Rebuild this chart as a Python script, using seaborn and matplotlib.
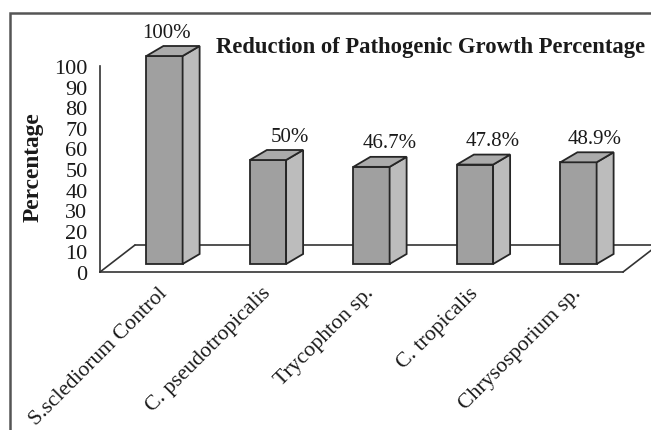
import matplotlib
matplotlib.use("Agg")
import matplotlib.pyplot as plt
import seaborn as sns
from matplotlib.patches import Polygon, Rectangle
from matplotlib.lines import Line2D

categories = ["S.sclediorum Control", "C. pseudotropicalis", "Trycophton sp.",
              "C. tropicalis", "Chrysosporium sp."]
values = [100, 50, 46.7, 47.8, 48.9]
value_labels = ["100%", "50%", "46.7%", "47.8%", "48.9%"]
yticks = [0, 10, 20, 30, 40, 50, 60, 70, 80, 90, 100]
title = "Reduction of Pathogenic Growth Percentage"
ylabel = "Percentage"

sns.set_theme(style="white")
plt.rcParams["font.family"] = ["Liberation Serif", "DejaVu Serif"]

W, H = 651, 431
DPI = 100
fig = plt.figure(figsize=(W / DPI, H / DPI), dpi=DPI)

left_px, right_px, bottom_px, top_px = 100, 623, 273, 20
ax = fig.add_axes([left_px / W, 1 - bottom_px / H,
                   (right_px - left_px) / W, (bottom_px - top_px) / H])

step_px = 103.5
first_center_px = 164.5
ppu_bar = 2.08
ppu_axis = 2.06
bar_base_px = 265

x_lo = -(first_center_px - left_px) / step_px
x_hi = x_lo + (right_px - left_px) / step_px
y_lo = -(bottom_px - bar_base_px) / ppu_bar
y_hi = (bar_base_px - top_px) / ppu_bar

front = "#a0a0a0"
side = "#bcbcbc"
topc = "#ababab"
edge = "#262626"
txt = "#1a1a1a"
elw = 1.3

sns.barplot(x=categories, y=values, ax=ax, width=0.35, color=front,
            saturation=1, edgecolor=edge, linewidth=elw, zorder=3)
ax.set_xlim(x_lo, x_hi)
ax.set_ylim(y_lo, y_hi)

fdx = 35 / step_px
fdy = 27 / ppu_bar
floor_kw = dict(color="#333333", lw=1.2, clip_on=False, zorder=1)
ax.add_line(Line2D([x_lo + fdx, x_hi + fdx + 1], [y_lo + fdy, y_lo + fdy], **floor_kw))
ax.add_line(Line2D([x_lo, x_lo + fdx], [y_lo, y_lo + fdy], **floor_kw))
ax.add_line(Line2D([x_hi, x_hi + fdx], [y_lo, y_lo + fdy], **floor_kw))

bdx = 17 / step_px
bdy = 10 / ppu_bar
for p in ax.patches[:len(values)]:
    x0 = p.get_x()
    w = p.get_width()
    y1 = p.get_height()
    x1 = x0 + w
    ax.add_patch(Polygon([(x1, 0), (x1 + bdx, bdy), (x1 + bdx, y1 + bdy), (x1, y1)],
                         closed=True, facecolor=side, edgecolor=edge, lw=elw,
                         zorder=3, clip_on=False))
    ax.add_patch(Polygon([(x0, y1), (x0 + bdx, y1 + bdy), (x1 + bdx, y1 + bdy), (x1, y1)],
                         closed=True, facecolor=topc, edgecolor=edge, lw=elw,
                         zorder=3, clip_on=False))

label_dx_px = [2, 22, 18, 17.5, 16]
for i, (v, lab) in enumerate(zip(values, value_labels)):
    ax.annotate(lab, xy=(i, v), xytext=(label_dx_px[i] * 0.72, 24 * 0.72),
                textcoords="offset points", ha="center", va="center",
                fontsize=15, color=txt, annotation_clip=False)

for s in ["left", "top", "right"]:
    ax.spines[s].set_visible(False)
ax.spines["bottom"].set_color("#333333")
ax.spines["bottom"].set_linewidth(1.2)
ax.set_yticks([])
ax.set_xlabel("")
ax.set_ylabel("")
ax.tick_params(axis="x", length=0, pad=13)
ax.set_xticks(range(len(categories)))
ax.set_xticklabels(categories, fontsize=15.7, color=txt)
plt.setp(ax.get_xticklabels(), rotation=45, ha="right", va="center",
         rotation_mode="anchor")
ax.patch.set_alpha(0)

axv = ax.twinx()
axv.set_ylim(0, (bottom_px - top_px) / ppu_axis)
axv.yaxis.set_ticks_position("left")
axv.yaxis.set_label_position("left")
axv.set_yticks(yticks)
axv.set_yticklabels([str(t) for t in yticks], fontsize=16, color=txt)
axv.tick_params(axis="y", length=0, pad=9)
for s in ["top", "right", "bottom"]:
    axv.spines[s].set_visible(False)
axv.spines["left"].set_bounds(0, 100)
axv.spines["left"].set_color("#333333")
axv.spines["left"].set_linewidth(1.2)
axv.patch.set_alpha(0)

fig.text(33 / W, 1 - 167 / H, ylabel, rotation=90, ha="center", va="center",
         fontsize=16.8, fontweight="bold", color=txt)
fig.text(430.5 / W, 1 - 48 / H, title, ha="center", va="center",
         fontsize=16.3, fontweight="bold", color=txt)

fig.patches.append(Rectangle((10 / W, -0.1), 1.2, 1 - 14 / H + 0.1,
                             transform=fig.transFigure, fill=False,
                             edgecolor="#555555", lw=1.8))

fig.savefig("out.png", dpi=DPI)
